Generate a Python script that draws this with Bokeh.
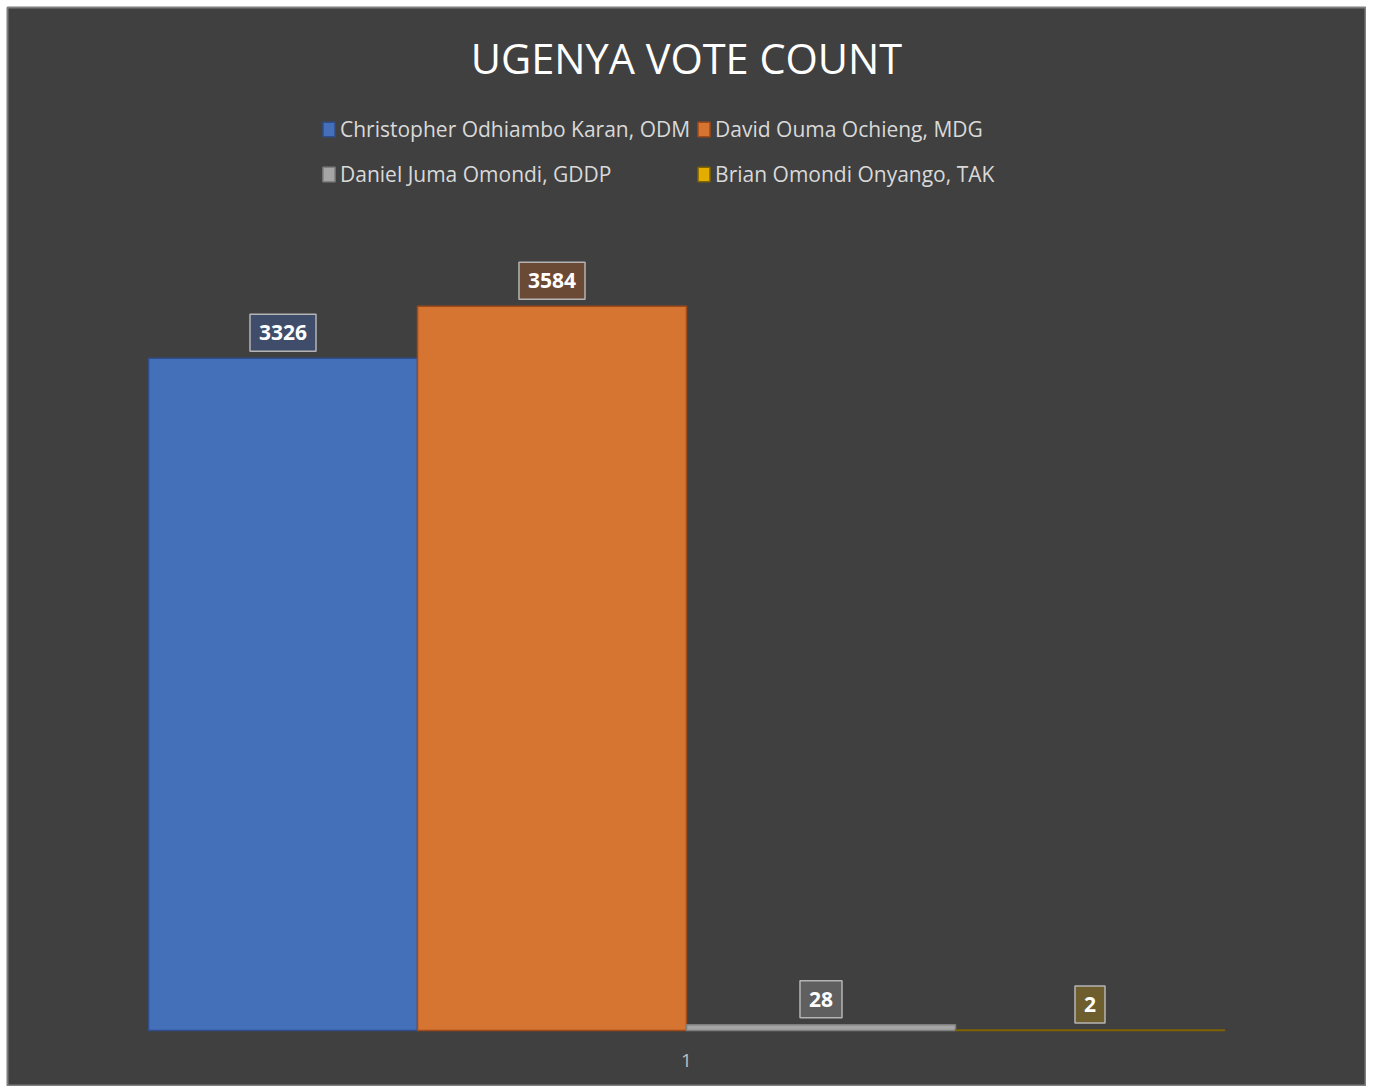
from bokeh.plotting import figure
from bokeh.models import Range1d, Legend, LegendItem, Label, ColumnDataSource
from bokeh.core.properties import value
from bokeh.embed import file_html
from bokeh.resources import INLINE

# ---- data ----
chart_title = "UGENYA VOTE COUNT"
category_label = "1"
candidates = [
    "Christopher Odhiambo Karan, ODM",
    "David Ouma Ochieng, MDG",
    "Daniel Juma Omondi, GDDP",
    "Brian Omondi Onyango, TAK",
]
votes = [3326, 3584, 28, 2]

# ---- styles ----
fills = ["#4470B9", "#D67532", "#A5A5A5", "#E3AE00"]
outlines = ["#2F4D8A", "#A04A1A", "#7F7F7F", "#7F6300"]
label_fills = ["#3F4D6B", "#6B4A35", "#5F5F5F", "#6E5E2E"]

BG = "#404040"
W, H = 1366, 1086
PAD_L, PAD_T = 7, 7
FW, FH = W - PAD_L, H - PAD_T
px_per_vote = 0.2021
base_px = 56
left_px, bar_px = 141, 269

n = len(votes)
x0 = -left_px / bar_px
x1 = n + (FW - left_px - n * bar_px) / bar_px
y0 = -base_px / px_per_vote
y1 = y0 + FH / px_per_vote

p = figure(width=W, height=H, x_range=Range1d(x0, x1), y_range=Range1d(y0, y1),
           output_backend="svg", toolbar_location=None,
           min_border_left=PAD_L, min_border_top=PAD_T, min_border_right=0, min_border_bottom=0,
           x_axis_location=None, y_axis_location=None,
           background_fill_color=BG, border_fill_color="white",
           outline_line_color="#7F7F7F", outline_line_width=2)
p.grid.visible = False

xs = [i + 0.5 for i in range(n)]
items = []
for i in range(n):
    src = ColumnDataSource(dict(x=[xs[i]], top=[votes[i]]))
    r = p.vbar(x="x", top="top", bottom=0, width=1, source=src,
               fill_color=fills[i], line_color=outlines[i], line_width=1.5)
    items.append(LegendItem(label=candidates[i], renderers=[r]))

lab_src = ColumnDataSource(dict(x=xs, y=votes, t=[str(v) for v in votes], bg=label_fills))
p.text(x="x", y="y", text="t", source=lab_src,
       text_font=value("Open Sans"), text_font_style="bold", text_font_size="21px",
       text_color="white", text_align="center", text_baseline="bottom",
       y_offset=-7, background_fill_color="bg", border_line_color="#B4B4B4",
       border_line_width=1.5, padding=dict(left=9, right=9, top=11, bottom=11))

legend = Legend(items=items, location=(314, 893), orientation="horizontal", ncols=2,
                label_text_font="Open Sans", label_text_font_size="21px",
                label_text_color="#D9D9D9", glyph_width=15, glyph_height=18,
                label_standoff=4, spacing=6, label_height=39, padding=0, margin=0,
                border_line_alpha=0, background_fill_alpha=0)
p.add_layout(legend)

p.add_layout(Label(x=679, y=1029, x_units="screen", y_units="screen", text=chart_title,
                   text_align="center", text_baseline="alphabetic", text_font="Open Sans",
                   text_font_size="41.5px", text_color="white"))
p.add_layout(Label(x=679, y=26, x_units="screen", y_units="screen", text=category_label,
                   text_align="center", text_baseline="alphabetic", text_font="Open Sans",
                   text_font_size="19px", text_color="#BFBFBF"))

open("out.html", "w").write(file_html(p, INLINE))
